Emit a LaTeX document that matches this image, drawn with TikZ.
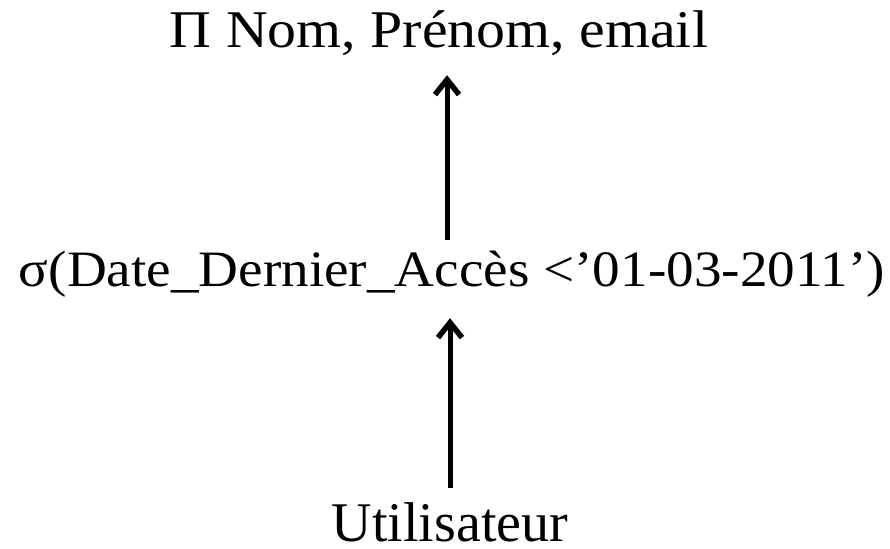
\documentclass[tikz,border=0pt]{standalone}
\usepackage{fontspec}
\setmainfont{Liberation Serif}
\usepackage{graphicx}
\usepackage{tikz}
\usetikzlibrary{arrows.meta}

\tikzset{
    relnode/.style={inner sep=0pt, anchor=base, text height=40pt, text depth=12pt},
    flow/.style={line width=5pt, -{Straight Barb[length=15pt, width=24pt, line width=5.5pt]}}
}

\begin{document}
\begin{tikzpicture}[x=1pt, y=1pt]
    \useasboundingbox (0,0) rectangle (890,548);

    \node [relnode, font=\fontsize{53}{60}\selectfont] (proj) at (439,500)
        {\resizebox{538pt}{\height}{Π Nom, Prénom, email}};
    \node [relnode, font=\fontsize{51}{58}\selectfont] (sel) at (452,261)
        {\resizebox{866pt}{\height}{σ(Date\_Dernier\_Accès <’01-03-2011’)}};
    \node [relnode, text depth=2pt, font=\fontsize{56}{62}\selectfont] (util) at (450,7) {Utilisateur};

    % Now draw the arrows:
    \draw [flow, shorten <=7pt, shorten >=15pt] ([xshift=-5pt]sel.north) -- ([xshift=-5pt]sel.north |- proj.south);
    \draw [flow, shorten <=13pt, shorten >=19pt] (util.north) -- (util.north |- sel.south);
\end{tikzpicture}
\end{document}
